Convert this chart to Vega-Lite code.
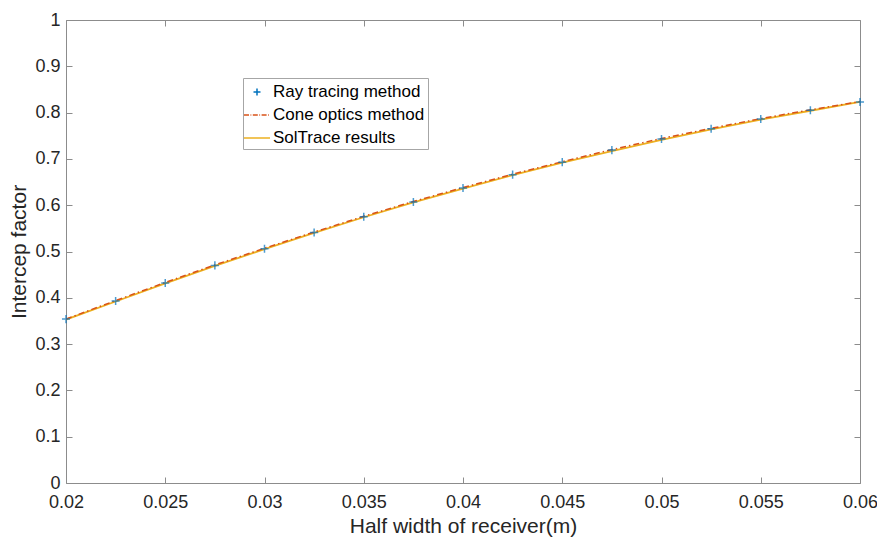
{
  "$schema": "https://vega.github.io/schema/vega-lite/v6.json",
  "width": 794,
  "height": 463,
  "autosize": {"type": "none"},
  "padding": {"left": 66, "top": 20, "right": 17, "bottom": 55},
  "background": "white",
  "config": {
    "view": {"stroke": null},
    "axis": {
      "domainColor": "#8c8c8c",
      "tickColor": "#8c8c8c",
      "labelColor": "#262626",
      "labelFont": "Liberation Sans",
      "labelFontSize": 18,
      "labelFlush": false,
      "titleFont": "Liberation Sans",
      "titleFontSize": 21,
      "titleColor": "#262626",
      "titleFontWeight": "normal",
      "grid": false,
      "tickSize": -6,
      "tickWidth": 1,
      "domainWidth": 1
    }
  },
  "data": {
    "values": [
      {"x": 0.02, "y": 0.354, "series": "Ray tracing method"},
      {"x": 0.0225, "y": 0.393, "series": "Ray tracing method"},
      {"x": 0.025, "y": 0.432, "series": "Ray tracing method"},
      {"x": 0.0275, "y": 0.470, "series": "Ray tracing method"},
      {"x": 0.03, "y": 0.506, "series": "Ray tracing method"},
      {"x": 0.0325, "y": 0.541, "series": "Ray tracing method"},
      {"x": 0.035, "y": 0.575, "series": "Ray tracing method"},
      {"x": 0.0375, "y": 0.607, "series": "Ray tracing method"},
      {"x": 0.04, "y": 0.637, "series": "Ray tracing method"},
      {"x": 0.0425, "y": 0.666, "series": "Ray tracing method"},
      {"x": 0.045, "y": 0.693, "series": "Ray tracing method"},
      {"x": 0.0475, "y": 0.719, "series": "Ray tracing method"},
      {"x": 0.05, "y": 0.743, "series": "Ray tracing method"},
      {"x": 0.0525, "y": 0.765, "series": "Ray tracing method"},
      {"x": 0.055, "y": 0.786, "series": "Ray tracing method"},
      {"x": 0.0575, "y": 0.805, "series": "Ray tracing method"},
      {"x": 0.06, "y": 0.823, "series": "Ray tracing method"},
      {"x": 0.02, "y": 0.354, "series": "Cone optics method"},
      {"x": 0.0225, "y": 0.394, "series": "Cone optics method"},
      {"x": 0.025, "y": 0.433, "series": "Cone optics method"},
      {"x": 0.0275, "y": 0.471, "series": "Cone optics method"},
      {"x": 0.03, "y": 0.507, "series": "Cone optics method"},
      {"x": 0.0325, "y": 0.542, "series": "Cone optics method"},
      {"x": 0.035, "y": 0.576, "series": "Cone optics method"},
      {"x": 0.0375, "y": 0.608, "series": "Cone optics method"},
      {"x": 0.04, "y": 0.638, "series": "Cone optics method"},
      {"x": 0.0425, "y": 0.667, "series": "Cone optics method"},
      {"x": 0.045, "y": 0.694, "series": "Cone optics method"},
      {"x": 0.0475, "y": 0.720, "series": "Cone optics method"},
      {"x": 0.05, "y": 0.744, "series": "Cone optics method"},
      {"x": 0.0525, "y": 0.766, "series": "Cone optics method"},
      {"x": 0.055, "y": 0.787, "series": "Cone optics method"},
      {"x": 0.0575, "y": 0.806, "series": "Cone optics method"},
      {"x": 0.06, "y": 0.824, "series": "Cone optics method"},
      {"x": 0.02, "y": 0.353, "series": "SolTrace results"},
      {"x": 0.0225, "y": 0.392, "series": "SolTrace results"},
      {"x": 0.025, "y": 0.431, "series": "SolTrace results"},
      {"x": 0.0275, "y": 0.469, "series": "SolTrace results"},
      {"x": 0.03, "y": 0.505, "series": "SolTrace results"},
      {"x": 0.0325, "y": 0.540, "series": "SolTrace results"},
      {"x": 0.035, "y": 0.574, "series": "SolTrace results"},
      {"x": 0.0375, "y": 0.606, "series": "SolTrace results"},
      {"x": 0.04, "y": 0.636, "series": "SolTrace results"},
      {"x": 0.0425, "y": 0.665, "series": "SolTrace results"},
      {"x": 0.045, "y": 0.692, "series": "SolTrace results"},
      {"x": 0.0475, "y": 0.717, "series": "SolTrace results"},
      {"x": 0.05, "y": 0.741, "series": "SolTrace results"},
      {"x": 0.0525, "y": 0.764, "series": "SolTrace results"},
      {"x": 0.055, "y": 0.785, "series": "SolTrace results"},
      {"x": 0.0575, "y": 0.804, "series": "SolTrace results"},
      {"x": 0.06, "y": 0.823, "series": "SolTrace results"}
    ]
  },
  "layer": [
    {
      "transform": [{"filter": "datum.series === 'SolTrace results'"}],
      "mark": {"type": "line", "strokeWidth": 1.8, "clip": true},
      "encoding": {
        "x": {"field": "x", "type": "quantitative", "scale": {"domain": [0.02, 0.06], "nice": false, "zero": false},
          "axis": {"orient": "bottom", "values": [0.02, 0.025, 0.03, 0.035, 0.04, 0.045, 0.05, 0.055, 0.06], "format": ".3~f", "title": "Half width of receiver(m)", "labelPadding": 16, "titlePadding": 4}},
        "y": {"field": "y", "type": "quantitative", "scale": {"domain": [0, 1], "nice": false},
          "axis": {"orient": "left", "values": [0, 0.1, 0.2, 0.3, 0.4, 0.5, 0.6, 0.7, 0.8, 0.9, 1], "format": ".1~f", "title": "Intercep factor", "labelPadding": 12, "titlePadding": 5}},
        "color": {"field": "series", "type": "nominal",
          "scale": {"domain": ["Ray tracing method", "Cone optics method", "SolTrace results"], "range": ["#0072BD", "#D95319", "#EDB120"]},
          "legend": {
            "title": null,
            "orient": "none",
            "legendX": 177,
            "legendY": 58,
            "symbolSize": 400,
            "symbolStrokeWidth": 1.5,
            "labelFont": "Liberation Sans",
            "labelFontSize": 17,
            "labelColor": "#000000",
            "labelOffset": 5,
            "rowPadding": 4,
            "padding": 3,
            "strokeColor": "#a6a6a6",
            "fillColor": "white",
            "encode": {
              "symbols": {"update": {"shape": {"scale": "shape", "field": "value"}, "fill": {"value": "transparent"}, "stroke": {"scale": "color", "field": "value"}}}
            }
          }}
      }
    },
    {
      "transform": [{"filter": "datum.series === 'Cone optics method'"}],
      "mark": {"type": "line", "strokeWidth": 1.5, "strokeDash": [6, 3, 1.5, 3], "clip": true},
      "encoding": {
        "x": {"field": "x", "type": "quantitative", "axis": {"orient": "top", "values": [0.02, 0.025, 0.03, 0.035, 0.04, 0.045, 0.05, 0.055, 0.06], "labels": false, "title": null}},
        "y": {"field": "y", "type": "quantitative", "axis": {"orient": "right", "values": [0, 0.1, 0.2, 0.3, 0.4, 0.5, 0.6, 0.7, 0.8, 0.9, 1], "labels": false, "title": null}},
        "color": {"field": "series", "type": "nominal"}
      }
    },
    {
      "transform": [{"filter": "datum.series === 'Ray tracing method'"}],
      "mark": {"type": "point", "filled": false, "strokeWidth": 1.5, "size": 530, "clip": false},
      "encoding": {
        "x": {"field": "x", "type": "quantitative", "axis": null},
        "y": {"field": "y", "type": "quantitative", "axis": null},
        "color": {"field": "series", "type": "nominal"},
        "shape": {"field": "series", "type": "nominal",
          "scale": {"domain": ["Ray tracing method", "Cone optics method", "SolTrace results"],
            "range": ["M-0.35,0H0.35M0,-0.35V0.35", "M-1.3,0H-0.8M-0.65,0H-0.57M-0.42,0H0.08M0.23,0H0.31M0.46,0H0.96M1.11,0H1.19", "M-1.3,0H1.3"]},
          "legend": null
        }
      }
    }
  ],
  "resolve": {"axis": {"x": "independent", "y": "independent"}}
}
